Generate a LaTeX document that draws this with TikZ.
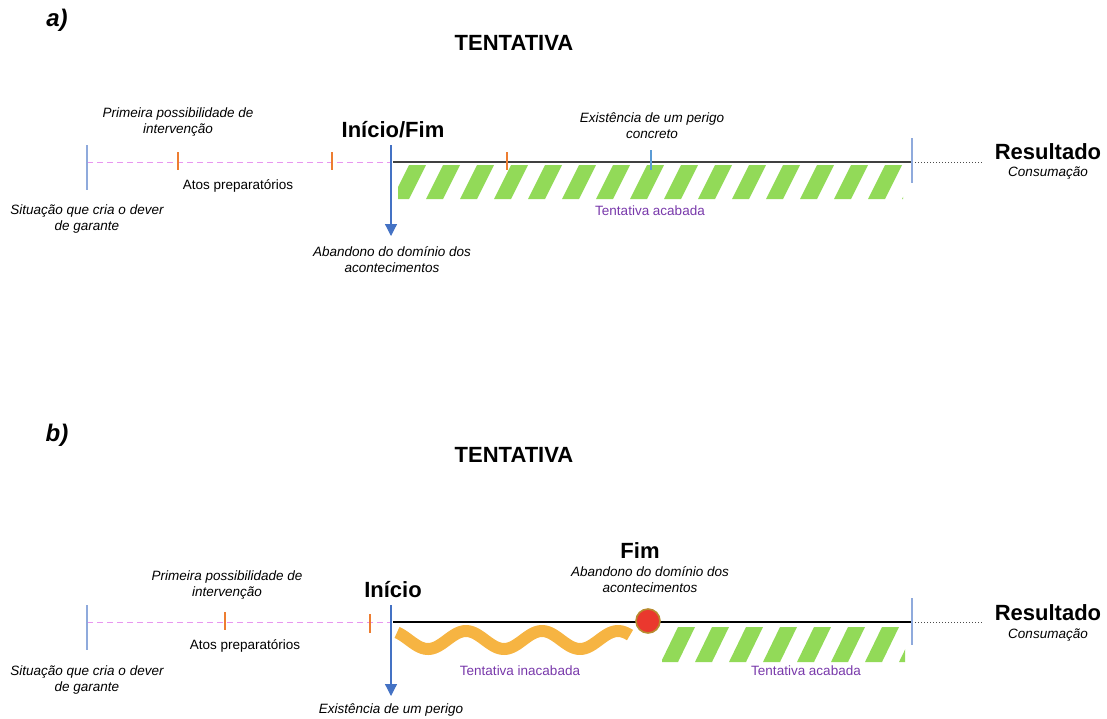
\documentclass[tikz,border=0pt]{standalone}
\usepackage{fontspec}
\setmainfont{Liberation Sans}
\usetikzlibrary{arrows.meta}

\definecolor{limitblue}{RGB}{143,170,220}
\definecolor{arrowblue}{RGB}{68,114,196}
\definecolor{perigoblue}{RGB}{91,155,213}
\definecolor{prepink}{RGB}{232,150,240}
\definecolor{tickorange}{RGB}{237,125,49}
\definecolor{stripegreen}{RGB}{146,218,88}
\definecolor{waveorange}{RGB}{246,180,66}
\definecolor{textpurple}{RGB}{120,56,170}
\definecolor{fimred}{RGB}{234,56,46}
\definecolor{fimrim}{RGB}{184,140,48}

\tikzset{
  lbl/.style={font=\fontsize{13.5}{16}\selectfont, align=center, inner sep=0pt},
  ilbl/.style={lbl, font=\fontsize{13.5}{16}\selectfont\itshape},
  plbl/.style={lbl, text=textpurple},
  big/.style={font=\fontsize{22}{26}\selectfont\bfseries, inner sep=0pt},
  panel/.style={font=\fontsize{24}{28}\selectfont\bfseries\itshape, inner sep=0pt},
  prep/.style={prepink, line width=1pt, dash pattern=on 6pt off 4pt},
  exec/.style={black!75, line width=1.6pt},
  dotline/.style={black!70, line width=1pt, dotted},
  limit/.style={limitblue, line width=1.2pt},
  otick/.style={tickorange, line width=1.6pt},
  ptick/.style={perigoblue, line width=2.6pt},
  abandono/.style={arrowblue, line width=1.2pt, -{Triangle[width=12pt,length=12pt]}},
  wave/.style={waveorange, line width=12pt},
  fim/.style={circle, fill=fimred, draw=fimrim, line width=1.6pt, minimum size=24pt, inner sep=0pt}
}

\begin{document}
\begin{tikzpicture}[x=1pt,y=-1pt]
\useasboundingbox (0,0) rectangle (1107,718);

% a)
\node[panel] (pa) at (57,20) {a)};
\node[big] (ta) at (514,43) {TENTATIVA};

\coordinate (a-sit) at (87,162);
\coordinate (a-ini) at (391,162);
\coordinate (a-res) at (912,162);
\coordinate (a-end) at (982,162);

\begin{scope}
  \clip (398,165) rectangle (903,199);
  \foreach \s in {392,426,...,920}
    \fill[stripegreen] (\s,199) -- ++(17,0) -- ++(17,-34) -- ++(-17,0) -- cycle;
\end{scope}

\draw[prep] (a-sit) -- (a-ini);
\draw[exec] ([xshift=2pt]a-ini) -- (a-res);
\draw[dotline] (a-res) -- (a-end);
\draw[limit] ([yshift=17pt]a-sit) -- ([yshift=-28pt]a-sit);
\draw[limit] ([yshift=24pt]a-res) -- ([yshift=-21pt]a-res);
\foreach \x in {178,332,507}
  \draw[otick] (\x,152) -- (\x,170);
\draw[ptick] (651,150) -- (651,170);
\draw[abandono] ([yshift=17pt]a-ini) -- ++(0,91);

\node[ilbl] (prim-a) at (178,122) {Primeira possibilidade de\\intervenção};
\node[big] (ini-a) at (393,130) {Início/Fim};
\node[ilbl] (per-a) at (652,126) {Existência de um perigo\\concreto};
\node[lbl] (atos-a) at (238,186) {Atos preparatórios};
\node[ilbl] (sit-a) at (87,219) {Situação que cria o dever\\de garante};
\node[ilbl] (aban-a) at (392,260) {Abandono do domínio dos\\acontecimentos};
\node[plbl] (acab-a) at (650,211) {Tentativa acabada};
\node[big] (res-a) at (1048,152) {Resultado};
\node[ilbl] (cons-a) at (1048,173) {Consumação};

% b)
\node[panel] (pb) at (57,435) {b)};
\node[big] (tb) at (514,455) {TENTATIVA};

\coordinate (b-sit) at (87,622);
\coordinate (b-ini) at (391,622);
\coordinate (b-res) at (912,622);
\coordinate (b-end) at (982,622);

\begin{scope}
  \clip (662,627) rectangle (905,662);
  \foreach \s in {627,661,...,920}
    \fill[stripegreen] (\s,662) -- ++(17,0) -- ++(17,-35) -- ++(-17,0) -- cycle;
\end{scope}
\draw[wave] plot[domain=397:630, samples=120] (\x, {640-9*cos((\x-466)/76*360)});

\draw[prep] (b-sit) -- (b-ini);
\draw[exec, black] ([xshift=2pt]b-ini) -- (b-res);
\draw[dotline] (b-res) -- (b-end);
\draw[limit] ([yshift=17pt]b-sit) -- ([yshift=-28pt]b-sit);
\draw[limit] ([yshift=24pt]b-res) -- ([yshift=-23pt]b-res);
\draw[otick] (225,612) -- (225,630);
\draw[otick] (370,614) -- (370,633);
\draw[abandono] ([yshift=17pt]b-ini) -- ++(0,91);
\node[fim] (fim-b) at (648,621) {};

\node[ilbl] (prim-b) at (227,585) {Primeira possibilidade de\\intervenção};
\node[big] (ini-b) at (393,590) {Início};
\node[big] (fimlbl-b) at (640,551) {Fim};
\node[ilbl] (aban-b) at (650,580) {Abandono do domínio dos\\acontecimentos};
\node[lbl] (atos-b) at (245,646) {Atos preparatórios};
\node[ilbl] (sit-b) at (87,680) {Situação que cria o dever\\de garante};
\node[ilbl] (per-b) at (391,710) {Existência de um perigo};
\node[plbl] (inac-b) at (520,671) {Tentativa inacabada};
\node[plbl] (acab-b) at (806,671) {Tentativa acabada};
\node[big] (res-b) at (1048,613) {Resultado};
\node[ilbl] (cons-b) at (1048,635) {Consumação};
\end{tikzpicture}
\end{document}
